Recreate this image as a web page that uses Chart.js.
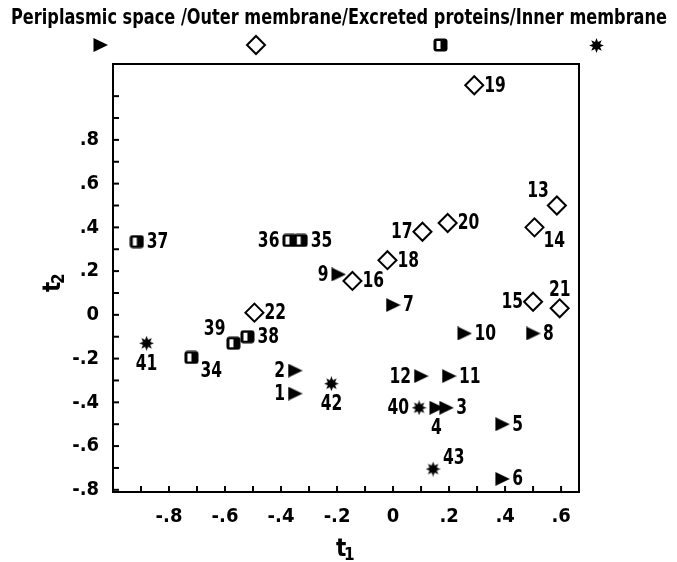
<!DOCTYPE html>
<html><head><meta charset="utf-8">
<script src="https://cdn.jsdelivr.net/npm/chart.js@4/dist/chart.umd.min.js"></script>
<style>html,body{margin:0;padding:0;background:#fff}</style>
</head><body>
<canvas id="c" width="677" height="562"></canvas>
<script>
// ---- data ----
const seriesNames = ['Periplasmic space', 'Outer membrane', 'Excreted proteins', 'Inner membrane'];
const legendText = 'Periplasmic space /Outer membrane/Excreted proteins/Inner membrane';

const periplasmicIds = ['1','2','3','4','5','6','7','8','9','10','11','12'];
const periplasmicX   = [-0.35,-0.35,0.19,0.155,0.39,0.39,0.0,0.50,-0.195,0.255,0.20,0.10];
const periplasmicY   = [-0.36,-0.255,-0.425,-0.425,-0.50,-0.75,0.045,-0.085,0.185,-0.085,-0.28,-0.28];
const periplasmicLbl = ['l','l','r','b','r','r','r','r','l','r','r','l'];

const outerIds = ['13','14','15','16','17','18','19','20','21','22'];
const outerX   = [0.585,0.505,0.50,-0.145,0.105,-0.02,0.29,0.195,0.595,-0.495];
const outerY   = [0.50,0.40,0.06,0.155,0.38,0.25,1.05,0.42,0.03,0.01];
const outerLbl = ['tl','br','l','r','l','r','r','r','t','r'];

const excretedIds = ['34','35','36','37','38','39'];
const excretedX   = [-0.72,-0.33,-0.37,-0.915,-0.52,-0.57];
const excretedY   = [-0.195,0.34,0.34,0.335,-0.10,-0.13];
const excretedLbl = ['br','r','l','r','r','tl'];

const innerIds = ['40','41','42','43'];
const innerX   = [0.093,-0.88,-0.22,0.143];
const innerY   = [-0.425,-0.13,-0.315,-0.705];
const innerLbl = ['l','b','b','tr'];

const xTitle = 't', xSub = '1';
const yTitle = 't', ySub = '2';

// ---- styles ----
const FONT = '"DejaVu Sans Condensed", "DejaVu Sans", sans-serif';
const LABEL_OFF = { r:[10,1,'left'], l:[-10,1,'right'], b:[0,21,'center'], t:[0,-18,'center'],
                    tl:[-8,-14,'right'], br:[9,14,'left'], tr:[10,-10,'left'] };
const SQUEEZE = 0.82;

function makeTriangle(){
  const c = document.createElement('canvas'); c.width = 15; c.height = 14;
  const g = c.getContext('2d'); g.fillStyle = '#000';
  g.beginPath(); g.moveTo(15, 7); g.lineTo(0.5, 0); g.lineTo(0.5, 14); g.closePath(); g.fill();
  return c;
}
function makeHalfSquare(){
  const c = document.createElement('canvas'); c.width = 15; c.height = 14;
  const g = c.getContext('2d');
  g.fillStyle = '#000';
  g.beginPath(); g.roundRect(0.5,0.5,14,13,3); g.fill();
  g.fillStyle = '#fff'; g.fillRect(3.5,3,4,8);
  return c;
}
function makeStar(){
  const c = document.createElement('canvas'); c.width = 15; c.height = 15;
  const g = c.getContext('2d'); g.fillStyle = '#000'; g.beginPath();
  for (let k = 0; k < 16; k++) {
    const r = k % 2 ? 3.9 : 7.4; const a = k * Math.PI / 8 - Math.PI / 2;
    const px = 7.5 + r * Math.cos(a), py = 7.5 + r * Math.sin(a);
    k ? g.lineTo(px, py) : g.moveTo(px, py);
  }
  g.closePath(); g.fill();
  return c;
}
const triImg = makeTriangle();
const halfSquareImg = makeHalfSquare();
const starImg = makeStar();

function pts(xs, ys){ return xs.map((x,i)=>({x:x, y:ys[i]})); }

const datasets = [
  { label: seriesNames[0], data: pts(periplasmicX, periplasmicY), ids: periplasmicIds, lbl: periplasmicLbl,
    pointStyle: triImg, pointRadius: 8 },
  { label: seriesNames[1], data: pts(outerX, outerY), ids: outerIds, lbl: outerLbl,
    pointStyle: 'rectRot', pointRadius: 9, backgroundColor: '#fff', borderColor: '#000', borderWidth: 2 },
  { label: seriesNames[2], data: pts(excretedX, excretedY), ids: excretedIds, lbl: excretedLbl,
    pointStyle: halfSquareImg, pointRadius: 8 },
  { label: seriesNames[3], data: pts(innerX, innerY), ids: innerIds, lbl: innerLbl,
    pointStyle: starImg, pointRadius: 8 }
];

function fmt(v){
  const k = Math.round(v * 10);
  if (k === 0) return '0';
  const s = (Math.abs(k) / 10).toFixed(1).replace(/^0/, '');
  return (k < 0 ? '-' : '') + s;
}

function squeezedText(ctx, text, x, y, align, sx){
  ctx.save();
  ctx.translate(x, y);
  ctx.scale(sx, 1);
  ctx.textAlign = align;
  ctx.fillText(text, 0, 0);
  ctx.restore();
}

const decor = {
  id: 'decor',
  afterDraw(chart){
    const ctx = chart.ctx, a = chart.chartArea;
    const xs = chart.scales.x, ys = chart.scales.y;
    ctx.save();
    ctx.strokeStyle = '#000'; ctx.lineWidth = 2;
    // inward ticks
    xs.ticks.forEach(t => {
      const k = Math.round(t.value * 10);
      if (k < -9 || k > 6) return;
      const px = xs.getPixelForValue(t.value);
      ctx.beginPath(); ctx.moveTo(px, a.bottom); ctx.lineTo(px, a.bottom - 6); ctx.stroke();
    });
    ys.ticks.forEach(t => {
      const k = Math.round(t.value * 10);
      if (k < -8 || k > 10) return;
      const py = ys.getPixelForValue(t.value);
      ctx.beginPath(); ctx.moveTo(a.left, py); ctx.lineTo(a.left + 6, py); ctx.stroke();
    });
    // frame
    ctx.strokeRect(a.left, a.top, a.right - a.left, a.bottom - a.top);

    // point labels
    ctx.fillStyle = '#000';
    ctx.font = 'bold 21px ' + FONT;
    ctx.textBaseline = 'middle';
    chart.data.datasets.forEach((ds, di) => {
      const meta = chart.getDatasetMeta(di);
      meta.data.forEach((el, i) => {
        const o = LABEL_OFF[ds.lbl[i]];
        squeezedText(ctx, ds.ids[i], el.x + o[0], el.y + o[1], o[2], SQUEEZE);
      });
    });

    // legend
    ctx.font = 'bold 21px ' + FONT;
    const w = ctx.measureText(legendText).width;
    squeezedText(ctx, legendText, 339, 19, 'center', 656 / w);
    // legend markers
    ctx.drawImage(triImg, 93, 38);
    ctx.lineWidth = 2; ctx.fillStyle = '#fff';
    ctx.beginPath(); ctx.moveTo(256, 36); ctx.lineTo(265, 45); ctx.lineTo(256, 54); ctx.lineTo(247, 45); ctx.closePath(); ctx.fill(); ctx.stroke();
    ctx.drawImage(halfSquareImg, 433, 38);
    ctx.drawImage(starImg, 589, 38);

    // axis titles
    ctx.fillStyle = '#000';
    ctx.textAlign = 'left'; ctx.textBaseline = 'alphabetic';
    ctx.font = 'bold 24px ' + FONT;
    ctx.fillText(xTitle, 336, 556);
    ctx.font = 'bold 17px ' + FONT;
    ctx.fillText(xSub, 344, 560);
    ctx.translate(60, 292); ctx.rotate(-Math.PI / 2);
    ctx.font = 'bold 24px ' + FONT;
    ctx.fillText(yTitle, 0, 0);
    ctx.font = 'bold 17px ' + FONT;
    ctx.fillText(ySub, 8, 4);
    ctx.restore();
  }
};

new Chart(document.getElementById('c'), {
  type: 'scatter',
  data: { datasets: datasets },
  options: {
    responsive: false, animation: false, devicePixelRatio: 1, events: [],
    layout: { padding: { top: 64, right: 98, left: 0, bottom: 0 } },
    plugins: { legend: { display: false }, tooltip: { enabled: false } },
    scales: {
      x: {
        type: 'linear', min: -1.0, max: 0.664,
        grid: { display: false, drawTicks: false }, border: { display: false },
        afterFit(s){ s.height = 70; },
        ticks: { stepSize: 0.1, includeBounds: false, autoSkip: false, maxRotation: 0, padding: 13,
          color: '#000', font: { family: FONT, size: 20, weight: 'bold' },
          callback(v){ const k = Math.round(v * 10); return (k % 2 === 0 && k >= -8 && k <= 6) ? fmt(v) : ''; } }
      },
      y: {
        type: 'linear', min: -0.81, max: 1.147,
        grid: { display: false, drawTicks: false }, border: { display: false },
        afterFit(s){ s.width = 113; },
        ticks: { stepSize: 0.1, includeBounds: false, autoSkip: false, padding: 14,
          color: '#000', font: { family: FONT, size: 20, weight: 'bold' },
          callback(v){ const k = Math.round(v * 10); return (k % 2 === 0 && k >= -8 && k <= 8) ? fmt(v) : ''; } }
      }
    }
  },
  plugins: [decor]
});
</script>
</body></html>
